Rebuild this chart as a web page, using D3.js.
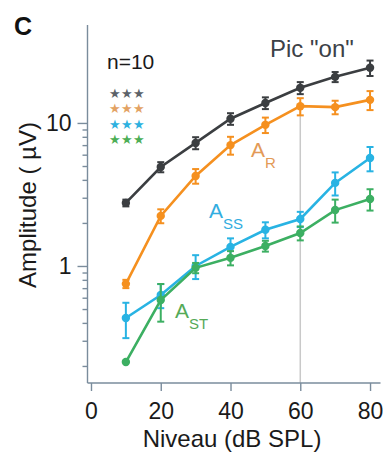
<!DOCTYPE html>
<html><head><meta charset="utf-8">
<script src="https://cdn.jsdelivr.net/npm/d3@7"></script>
<style>
html,body{margin:0;padding:0;background:#fff;}
svg text{font-family:"Liberation Sans",Arial,sans-serif;}
</style></head>
<body><svg id="c" width="383" height="455"></svg>
<script>
const levels = [10, 20, 30, 40, 50, 60, 70, 80];
const aTotal = [2.76, 4.92, 7.25, 10.7, 13.8, 17.6, 21.0, 24.3];
const aTotalErr = [0.15, 0.4, 0.7, 1.0, 1.3, 1.7, 1.7, 3.0];
const aR = [0.75, 2.24, 4.26, 7.0, 9.7, 13.1, 12.9, 14.5];
const aRErr = [0.05, 0.25, 0.5, 1.0, 1.2, 1.8, 1.4, 2.2];
const aSS = [0.433, 0.627, 1.0, 1.36, 1.79, 2.13, 3.81, 5.69];
const aSSErr = [0.12, 0.12, 0.19, 0.2, 0.23, 0.26, 0.7, 1.1];
const aST = [0.213, 0.578, 0.97, 1.14, 1.38, 1.70, 2.46, 2.94];
const aSTErr = [0, 0.17, 0.08, 0.13, 0.12, 0.19, 0.45, 0.5];
const xTicks = [0, 20, 40, 60, 80];
const yMajor = [1, 10];
const yMinor = [0.2,0.3,0.4,0.5,0.6,0.7,0.8,0.9,2,3,4,5,6,7,8,9];
const seriesNames = ["Total", "A_R", "A_SS", "A_ST"];
const colors = ["#3b3e41", "#f5901f", "#28b3e3", "#3caf62"];
const starColors = ["#5c6269", "#e3a263", "#2db1e0", "#4cae55"];
const peakLevel = 60;

const svg = d3.select("#c");
const x = d3.scaleLinear().domain([-1, 83]).range([87.5, 380.5]);
const y = d3.scaleLog().domain([0.152, 48.4]).range([383, 25]);
const axisColor = "#7a8c9c";

// vertical line at peak
svg.append("line").attr("x1", x(peakLevel)).attr("x2", x(peakLevel))
  .attr("y1", y(aR[levels.indexOf(peakLevel)])).attr("y2", y.range()[0])
  .attr("stroke", "#c9c9c9").attr("stroke-width", 1.5);

// axes
const yAxis = d3.axisLeft(y).tickValues(yMajor).tickFormat(d3.format("d")).tickSize(10).tickPadding(6);
const gy = svg.append("g").attr("transform", `translate(${x.range()[0]},0)`).call(yAxis);
const gyMin = svg.append("g").attr("transform", `translate(${x.range()[0]},0)`)
  .call(d3.axisLeft(y).tickValues(yMinor).tickFormat("").tickSize(5));
gyMin.select(".domain").remove();
const xAxis = d3.axisBottom(x).tickValues(xTicks).tickSize(8).tickPadding(12);
const gx = svg.append("g").attr("transform", `translate(0,${y.range()[0]})`).call(xAxis);
[gy, gyMin, gx].forEach(g=>{
  g.select(".domain").attr("stroke", axisColor).attr("stroke-width", 1.4);
  g.selectAll(".tick line").attr("stroke", axisColor).attr("stroke-width", 1.4);
  g.selectAll(".tick text").attr("fill", "#1a1a1a").attr("font-size", 23)
    .attr("font-family", "Liberation Sans, Arial, sans-serif");
});
gy.select(".domain").attr("d", `M0,${y.range()[0]}V${y.range()[1]}`);
gx.select(".domain").attr("d", `M${x.range()[0]},0H${x.range()[1]}`);

// series
const data = [[aTotal, aTotalErr], [aR, aRErr], [aSS, aSSErr], [aST, aSTErr]];
const line = d3.line().x(d=>x(d.l)).y(d=>y(d.v));
data.forEach(([vals, errs], i) => {
  const pts = levels.map((l, j) => ({l, v: vals[j], e: errs[j]}));
  const g = svg.append("g");
  g.append("path").datum(pts).attr("d", line).attr("fill", "none")
    .attr("stroke", colors[i]).attr("stroke-width", 2.6);
  const eb = g.selectAll("g.eb").data(pts.filter(p=>p.e>0)).join("g");
  eb.append("line").attr("x1", d=>x(d.l)).attr("x2", d=>x(d.l))
    .attr("y1", d=>y(d.v + d.e)).attr("y2", d=>y(d.v - d.e))
    .attr("stroke", colors[i]).attr("stroke-width", 2);
  [1, -1].forEach(s => {
    eb.append("line").attr("x1", d=>x(d.l)-3.5).attr("x2", d=>x(d.l)+3.5)
      .attr("y1", d=>y(d.v + s*d.e)).attr("y2", d=>y(d.v + s*d.e))
      .attr("stroke", colors[i]).attr("stroke-width", 2);
  });
  g.selectAll("circle").data(pts).join("circle")
    .attr("cx", d=>x(d.l)).attr("cy", d=>y(d.v)).attr("r", 4.2).attr("fill", colors[i]);
});

// texts
svg.append("text").attr("x", 14).attr("y", 35).attr("font-size", 25).attr("font-weight", "bold")
  .attr("fill", "#111").text("C");
svg.append("text").attr("x", 107).attr("y", 69).attr("font-size", 21).attr("fill", "#1a1a1a").text("n=10");
starColors.forEach((c, i) => {
  svg.append("text").attr("x", 109).attr("y", 98 + i * 15.3).attr("font-size", 12.5)
    .attr("fill", c).attr("font-family", "DejaVu Sans").text("★★★");
});
svg.append("text").attr("x", 270).attr("y", 57).attr("font-size", 24).attr("fill", "#3c4147").text('Pic "on"');

function sublabel(tx, ty, main, sub, color) {
  const t = svg.append("text").attr("x", tx).attr("y", ty).attr("fill", color).attr("font-size", 21);
  t.append("tspan").text(main);
  t.append("tspan").attr("dy", 11).attr("font-size", 15).text(sub);
}
sublabel(251, 157, "A", "R", "#e39a57");
sublabel(209, 218, "A", "SS", "#32ade0");
sublabel(175, 318, "A", "ST", "#55aa58");

svg.append("text").attr("x", 232).attr("y", 447).attr("text-anchor", "middle")
  .attr("font-size", 24).attr("fill", "#1a1a1a").text("Niveau (dB SPL)");
svg.append("text").attr("transform", "translate(36,205) rotate(-90)").attr("text-anchor", "middle")
  .attr("font-size", 24).attr("fill", "#1a1a1a").text("Amplitude ( µV)");
</script></body></html>
